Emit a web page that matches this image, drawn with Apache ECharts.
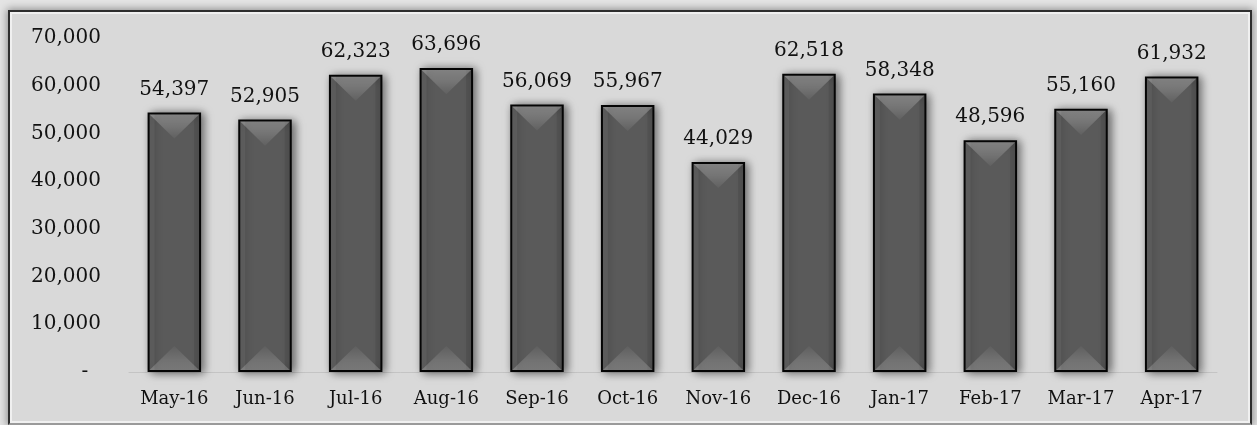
<!DOCTYPE html>
<html>
<head>
<meta charset="utf-8">
<script src="https://cdn.jsdelivr.net/npm/echarts@6/dist/echarts.min.js"></script>
<style>
  html, body { margin: 0; padding: 0; }
  body { width: 1257px; height: 425px; position: relative; overflow: hidden; background: #e4e4e4; }
  #frame { position: absolute; left: 8px; top: 10px; width: 1240px; height: 411px;
           border: 2px solid #2e2e2e; border-bottom-color: #9a9a9a; background: #d9d9d9;
           box-shadow: inset 0 0 0 2px #f0f0f0, 0 0 8px 1px rgba(0,0,0,0.4); }
  #chart { position: absolute; left: 0; top: 0; width: 1257px; height: 425px; }
</style>
</head>
<body>
<div id="frame"></div>
<div id="chart"></div>
<script>
const categories = ['May-16','Jun-16','Jul-16','Aug-16','Sep-16','Oct-16','Nov-16','Dec-16','Jan-17','Feb-17','Mar-17','Apr-17'];
const values = [54397, 52905, 62323, 63696, 56069, 55967, 44029, 62518, 58348, 48596, 55160, 61932];
const yTicks = [0, 10000, 20000, 30000, 40000, 50000, 60000, 70000];

const FONT = 'DejaVu Serif';
const BAR_W = 0.59;
const fmt = v => v === 0 ? '-  ' : v.toLocaleString('en-US');

const chart = echarts.init(document.getElementById('chart'), null, { renderer: 'canvas' });
chart.setOption({
  backgroundColor: 'transparent',
  animation: false,
  grid: { left: 129, right: 40, top: 38, bottom: 53, containLabel: false },
  xAxis: {
    type: 'category',
    data: categories,
    axisLine: { show: true, lineStyle: { color: '#c4c4c4', width: 1 } },
    axisTick: { show: false },
    axisLabel: { color: '#111', fontFamily: FONT, fontSize: 18, margin: 18 }
  },
  yAxis: {
    type: 'value',
    min: yTicks[0],
    max: yTicks[yTicks.length - 1],
    interval: 10000,
    splitLine: { show: false },
    axisLine: { show: false },
    axisTick: { show: false },
    axisLabel: { color: '#111', fontFamily: FONT, fontSize: 20, margin: 28, formatter: fmt }
  },
  series: [
    {
      type: 'bar',
      data: values,
      barWidth: (BAR_W * 100) + '%',
      itemStyle: {
        color: '#5a5a5a',
        borderColor: '#050505',
        borderWidth: 2,
        shadowColor: 'rgba(0,0,0,0.55)',
        shadowBlur: 9,
        shadowOffsetX: 3,
        shadowOffsetY: 1
      },
      label: {
        show: true,
        position: 'top',
        distance: 13,
        color: '#111',
        fontFamily: FONT,
        fontSize: 20,
        formatter: p => fmt(p.value)
      }
    },
    {
      type: 'custom',
      silent: true,
      z: 5,
      data: values.map((v, i) => [i, v]),
      renderItem: function (params, api) {
        const i = api.value(0), v = api.value(1);
        const top = api.coord([i, v]);
        const bot = api.coord([i, 0]);
        const w = api.size([1, 0])[0] * BAR_W;
        const b = 2;
        const l = top[0] - w / 2 + b, r = top[0] + w / 2 - b;
        const t = top[1] + b, btm = bot[1] - b;
        const d = w * 0.45;
        return {
          type: 'group',
          children: [
            { type: 'rect', shape: { x: l, y: t, width: 5, height: btm - t },
              style: { fill: 'rgba(255,255,255,0.06)' } },
            { type: 'rect', shape: { x: r - 5, y: t, width: 5, height: btm - t },
              style: { fill: 'rgba(0,0,0,0.08)' } },
            { type: 'polygon', shape: { points: [[l, t], [r, t], [top[0], t + d]] },
              style: { fill: new echarts.graphic.LinearGradient(0, 0, 0, 1, [
                { offset: 0, color: 'rgba(255,255,255,0.28)' },
                { offset: 1, color: 'rgba(255,255,255,0.04)' }]) } },
            { type: 'polygon', shape: { points: [[l, btm], [r, btm], [top[0], btm - d]] },
              style: { fill: new echarts.graphic.LinearGradient(0, 0, 0, 1, [
                { offset: 0, color: 'rgba(255,255,255,0.03)' },
                { offset: 1, color: 'rgba(255,255,255,0.22)' }]) } }
          ]
        };
      }
    }
  ]
});
</script>
</body>
</html>
